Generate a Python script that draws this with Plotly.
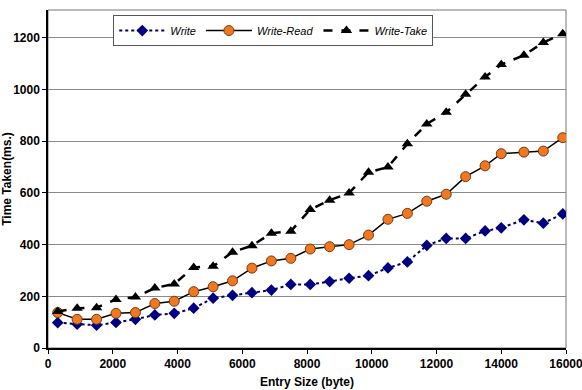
import plotly.graph_objects as go

entry_size = [300, 900, 1500, 2100, 2700, 3300, 3900, 4500, 5100, 5700, 6300, 6900, 7500,
              8100, 8700, 9300, 9900, 10500, 11100, 11700, 12300, 12900, 13500, 14000,
              14700, 15300, 15900]
write = [98, 92, 88, 99, 111, 128, 134, 154, 193, 204, 214, 224, 246, 246, 257, 270, 280,
         310, 333, 397, 424, 424, 453, 465, 496, 483, 519]
write_read = [137, 111, 111, 134, 137, 172, 181, 218, 237, 260, 309, 337, 347, 383, 392, 400,
              437, 498, 521, 568, 595, 663, 705, 752, 758, 762, 814]
write_take = [141, 154, 156, 188, 197, 232, 248, 312, 316, 371, 396, 444, 452, 536, 572, 600,
              680, 700, 790, 867, 912, 982, 1049, 1097, 1133, 1182, 1216]

x_ticks = [0, 2000, 4000, 6000, 8000, 10000, 12000, 14000, 16000]
y_ticks = [0, 200, 400, 600, 800, 1000, 1200]

fnt = "Liberation Sans, Arial, sans-serif"

fig = go.Figure()
fig.add_trace(go.Scatter(
    x=entry_size, y=write, name="Write", mode="lines+markers",
    line=dict(color="#000060", width=2, dash="dot"),
    marker=dict(symbol="diamond", size=9, color="#000080"),
))
fig.add_trace(go.Scatter(
    x=entry_size, y=write_read, name="Write-Read", mode="lines+markers",
    line=dict(color="black", width=1.5),
    marker=dict(symbol="circle", size=10, color="#F07820", line=dict(color="#7a3a10", width=1)),
))
fig.add_trace(go.Scatter(
    x=entry_size, y=write_take, name="Write-Take", mode="lines+markers",
    line=dict(color="black", width=2.5, dash="dash"),
    marker=dict(symbol="triangle-up", size=10, color="black"),
))

fig.update_layout(
    width=582, height=390,
    margin=dict(l=48, r=16, t=10, b=42, autoexpand=False),
    paper_bgcolor="white", plot_bgcolor="white",
    font=dict(family=fnt, size=11, color="black"),
    showlegend=True,
    legend=dict(
        orientation="h", x=0.126, y=0.985, xanchor="left", yanchor="top",
        bgcolor="white", bordercolor="#555", borderwidth=1,
        font=dict(family=fnt, size=11, style="italic"),
        itemwidth=46,
    ),
    xaxis=dict(
        range=[0, 16000], tickvals=x_ticks, ticktext=[str(v) for v in x_ticks],
        showgrid=False, zeroline=False, showline=True, linecolor="black", linewidth=1.5,
        mirror=False, ticks="outside", ticklen=4, tickcolor="black", automargin=False,
        ticklabeloverflow="allow",
        tickfont=dict(family=fnt, size=12, weight="bold"),
        title=dict(text="Entry Size (byte)", font=dict(family=fnt, size=12, weight="bold"), standoff=7),
    ),
    yaxis=dict(
        range=[0, 1308], tickvals=y_ticks, ticktext=[str(v) for v in y_ticks],
        showgrid=True, gridcolor="#8a8a8a", gridwidth=1, zeroline=False,
        showline=True, linecolor="black", linewidth=1.5, automargin=False,
        ticks="outside", ticklen=4, tickcolor="black",
        tickfont=dict(family=fnt, size=12, weight="bold"),
        title=dict(text="Time Taken(ms.)", font=dict(family=fnt, size=12, weight="bold"), standoff=5),
    ),
    shapes=[dict(type="rect", xref="paper", yref="paper", x0=0, y0=0, x1=1, y1=1,
                 line=dict(color="#777", width=1), layer="below")],
)

fig.write_html("out.html", config={"displayModeBar": False},
               post_script="document.body.style.margin='0';")
